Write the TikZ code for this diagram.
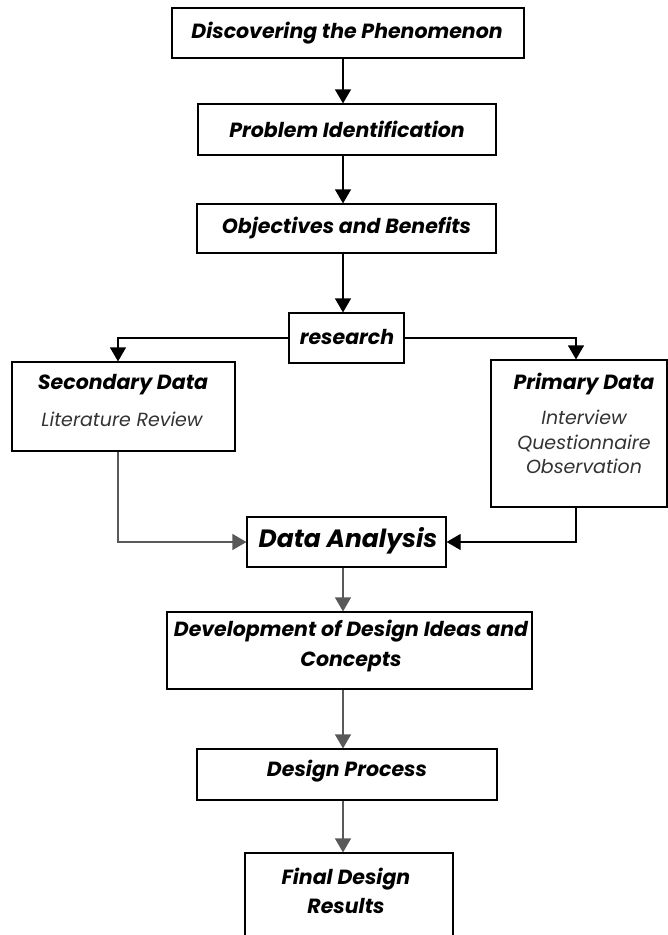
\documentclass[tikz,border=0pt]{standalone}
\usepackage{fontspec}
\setmainfont{Poppins}
\usetikzlibrary{arrows.meta,calc}
\begin{document}
\begin{tikzpicture}[x=1pt,y=-1pt,
  box/.style={draw=black,line width=1.2pt,inner sep=0pt,fill=white},
  ttl/.style={font=\fontsize{20.5}{24}\selectfont\bfseries\itshape},
  sub/.style={font=\fontsize{19}{24.5}\selectfont\itshape,align=center,text=black!80},
  arr/.style={line width=1.2pt,-{Triangle[width=16pt,length=14pt]}},
  garr/.style={arr,draw=black!65}]
\useasboundingbox (0,0) rectangle (668,935);
\clip (0,0) rectangle (668,935);
\node[box,minimum width=352pt,minimum height=50pt] (disc) at (348,33) {};
\node[ttl] at (347,33) {Discovering the Phenomenon};
\node[box,minimum width=298pt,minimum height=51pt] (prob) at (347,129.5) {};
\node[ttl] at (347,129) {Problem Identification};
\node[box,minimum width=299pt,minimum height=49pt] (obj) at (346.5,228.5) {};
\node[ttl] at (346.5,228) {Objectives and Benefits};
\node[box,minimum width=115pt,minimum height=50pt] (res) at (346.5,338) {};
\node[ttl] at (347,337) {research};
\node[box,minimum width=223pt,minimum height=89pt] (sec) at (123.5,406.5) {};
\node[ttl] at (123,385) {Secondary Data};
\node[sub] at (122,419) {Literature Review};
\node[box,minimum width=176pt,minimum height=147pt] (prim) at (579,433.5) {};
\node[ttl] at (584,384) {Primary Data};
\node[sub] at (584,442) {Interview\\Questionnaire\\Observation};
\node[box,minimum width=199pt,minimum height=50pt] (da) at (346.5,542) {};
\node[font=\fontsize{25}{30}\selectfont\bfseries\itshape] at (348,541) {Data Analysis};
\node[box,minimum width=365pt,minimum height=77pt] (dev) at (349.5,650.5) {};
\node[align=center,font=\fontsize{20.5}{30}\selectfont\bfseries\itshape] at (351,646) {Development of Design Ideas and\\Concepts};
\node[box,minimum width=300pt,minimum height=51pt] (dp) at (347,774.5) {};
\node[ttl] at (347,771) {Design Process};
\node[box,minimum width=208pt,minimum height=120pt] (fin) at (349,913) {};
\node[align=center,font=\fontsize{20.5}{29}\selectfont\bfseries\itshape] at (346,891) {Final Design\\Results};
% connectors
\coordinate (ax) at (343,0);
\draw[arr] (disc.south -| ax) -- (prob.north -| ax);
\draw[arr] (prob.south -| ax) -- (obj.north -| ax);
\draw[arr] (obj.south -| ax) -- (res.north -| ax);
\coordinate (sx) at (118,0);
\coordinate (px) at (576,0);
\draw[arr] (res.west) -- (res.west -| sx) -- (sec.north -| sx);
\draw[arr] (res.east) -- (res.east -| px) -- (prim.north -| px);
\draw[garr] (sec.south -| sx) -- (da.west -| sx) -- (da.west);
\draw[arr] (prim.south -| px) -- (da.east -| px) -- (da.east);
\draw[garr] (da.south -| ax) -- (dev.north -| ax);
\draw[garr] (dev.south -| ax) -- (dp.north -| ax);
\draw[garr] (dp.south -| ax) -- (fin.north -| ax);
\end{tikzpicture}
\end{document}
